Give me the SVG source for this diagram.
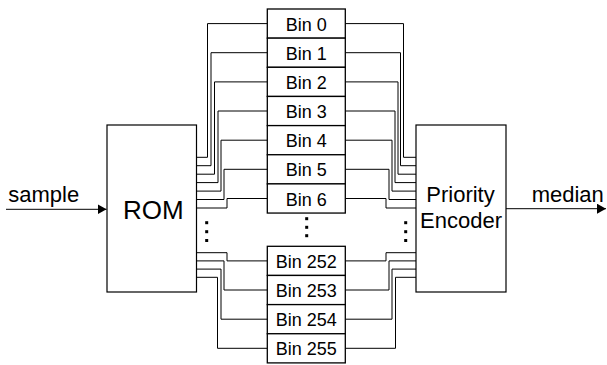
<svg xmlns="http://www.w3.org/2000/svg" width="607" height="365" viewBox="0 0 607 365">
<style>
.box{fill:#fff;stroke:#000;stroke-width:1.2}
.bin{fill:#fff;stroke:#000;stroke-width:1.3}
.w{fill:none;stroke:#000;stroke-width:1}
.t{font-family:"Liberation Sans",Arial,sans-serif;fill:#000}
.bt{font-size:18px;text-anchor:middle}
.dot{fill:#000}
</style>
<defs>
<marker id="ah" markerWidth="10" markerHeight="10" refX="9" refY="5" orient="auto" markerUnits="userSpaceOnUse">
<path d="M0,0 L9,5 L0,10 Z" fill="#000"/>
</marker>
</defs>
<g id="connectors">
<path class="w" d="M6,209.3 H106.5" marker-end="url(#ah)"/>
<path class="w" d="M506,208.7 H606" marker-end="url(#ah)"/>
<path class="w" d="M196.5,157.3 H207.5 V23.6 H267.3"/>
<path class="w" d="M196.5,165.7 H211 V52.7 H267.3"/>
<path class="w" d="M196.5,174.2 H214.5 V81.9 H267.3"/>
<path class="w" d="M196.5,182.6 H218 V111 H267.3"/>
<path class="w" d="M196.5,191.1 H221 V140.2 H267.3"/>
<path class="w" d="M196.5,199.5 H224 V169.3 H267.3"/>
<path class="w" d="M196.5,208 H227 V198.5 H267.3"/>
<path class="w" d="M196.5,252.7 H227 V260.9 H267.3"/>
<path class="w" d="M196.5,260.9 H224 V290 H267.3"/>
<path class="w" d="M196.5,269.1 H221 V319.2 H267.3"/>
<path class="w" d="M196.5,277.3 H217.5 V348.3 H267.3"/>
<path class="w" d="M345.3,23.6 H403.5 V157.3 H416"/>
<path class="w" d="M345.3,52.7 H400.5 V165.7 H416"/>
<path class="w" d="M345.3,81.9 H398 V174.2 H416"/>
<path class="w" d="M345.3,111 H395 V182.6 H416"/>
<path class="w" d="M345.3,140.2 H392 V191.1 H416"/>
<path class="w" d="M345.3,169.3 H389 V199.5 H416"/>
<path class="w" d="M345.3,198.5 H386 V208 H416"/>
<path class="w" d="M345.3,260.9 H386 V252.7 H416"/>
<path class="w" d="M345.3,290 H389 V260.9 H416"/>
<path class="w" d="M345.3,319.2 H392 V269.1 H416"/>
<path class="w" d="M345.3,348.3 H395.5 V277.3 H416"/>
</g>
<g id="rom">
<rect class="box" x="107" y="125" width="89.5" height="167"/>
<text class="t" x="153.3" y="219" font-size="26" text-anchor="middle">ROM</text>
</g>
<g id="encoder">
<rect class="box" x="416" y="125" width="90" height="167"/>
<text class="t" x="460.5" y="201.7" font-size="22" text-anchor="middle">Priority</text>
<text class="t" x="461" y="228" font-size="22" text-anchor="middle">Encoder</text>
</g>
<g id="bin0"><rect class="bin" x="267.3" y="9" width="78" height="29.15"/><text class="t bt" x="306.3" y="30.6">Bin 0</text></g>
<g id="bin1"><rect class="bin" x="267.3" y="38.15" width="78" height="29.15"/><text class="t bt" x="306.3" y="59.7">Bin 1</text></g>
<g id="bin2"><rect class="bin" x="267.3" y="67.3" width="78" height="29.15"/><text class="t bt" x="306.3" y="88.9">Bin 2</text></g>
<g id="bin3"><rect class="bin" x="267.3" y="96.45" width="78" height="29.15"/><text class="t bt" x="306.3" y="118">Bin 3</text></g>
<g id="bin4"><rect class="bin" x="267.3" y="125.6" width="78" height="29.15"/><text class="t bt" x="306.3" y="147.2">Bin 4</text></g>
<g id="bin5"><rect class="bin" x="267.3" y="154.75" width="78" height="29.15"/><text class="t bt" x="306.3" y="176.3">Bin 5</text></g>
<g id="bin6"><rect class="bin" x="267.3" y="183.9" width="78" height="29.15"/><text class="t bt" x="306.3" y="205.5">Bin 6</text></g>
<g id="bin252"><rect class="bin" x="267.3" y="246.3" width="78" height="29.15"/><text class="t bt" x="306.3" y="267.9">Bin 252</text></g>
<g id="bin253"><rect class="bin" x="267.3" y="275.45" width="78" height="29.15"/><text class="t bt" x="306.3" y="297">Bin 253</text></g>
<g id="bin254"><rect class="bin" x="267.3" y="304.6" width="78" height="29.15"/><text class="t bt" x="306.3" y="326.2">Bin 254</text></g>
<g id="bin255"><rect class="bin" x="267.3" y="333.75" width="78" height="29.15"/><text class="t bt" x="306.3" y="355.3">Bin 255</text></g>
<g id="ellipses">
<rect class="dot" x="205.2" y="221.2" width="3" height="3"/>
<rect class="dot" x="205.2" y="230.2" width="3" height="3"/>
<rect class="dot" x="205.2" y="239" width="3" height="3"/>
<rect class="dot" x="305.2" y="217.2" width="3" height="3"/>
<rect class="dot" x="305.2" y="225.8" width="3" height="3"/>
<rect class="dot" x="305.2" y="234.2" width="3" height="3"/>
<rect class="dot" x="404.2" y="221.2" width="3" height="3"/>
<rect class="dot" x="404.2" y="230.2" width="3" height="3"/>
<rect class="dot" x="404.2" y="239" width="3" height="3"/>
</g>
<g id="labels">
<text class="t" x="8.3" y="201.7" font-size="22">sample</text>
<text class="t" x="531.7" y="201.7" font-size="22">median</text>
</g>
</svg>
